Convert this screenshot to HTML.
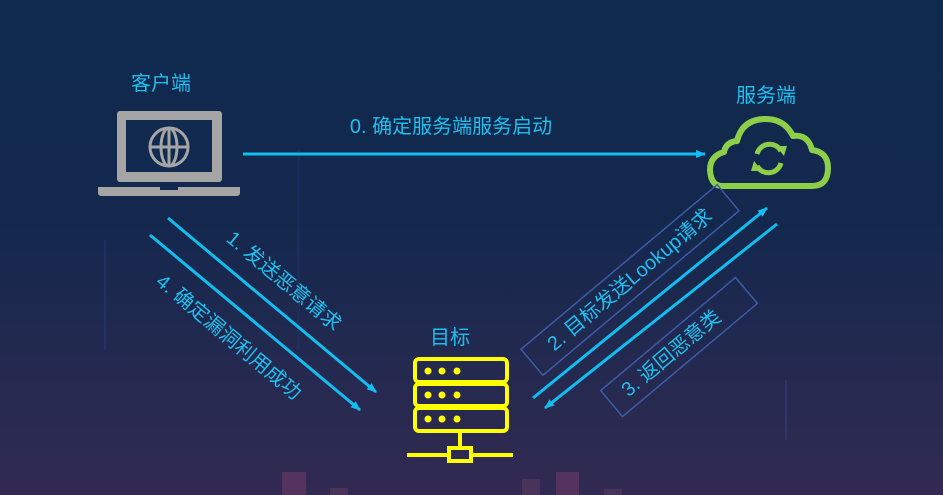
<!DOCTYPE html>
<html><head><meta charset="utf-8"><style>
html,body{margin:0;padding:0;width:943px;height:495px;overflow:hidden}
svg{display:block}
text{font-family:"Liberation Sans","Noto Sans CJK SC",sans-serif;fill:#1fbff0}
</style></head><body>
<svg width="943" height="495" viewBox="0 0 943 495" xmlns="http://www.w3.org/2000/svg">
<defs>
<linearGradient id="bg" x1="0" y1="0" x2="0" y2="1">
<stop offset="0" stop-color="#0f2a4f"/><stop offset="0.45" stop-color="#14284d"/><stop offset="1" stop-color="#322a52"/>
</linearGradient>
<marker id="ah" markerWidth="10" markerHeight="8" refX="9" refY="4" orient="auto" markerUnits="userSpaceOnUse">
<path d="M0,0 L10,4 L0,8 z" fill="#12bdf0"/></marker>
</defs>
<rect width="943" height="495" fill="url(#bg)"/>
<rect x="297" y="150" width="3" height="200" fill="#1d3a7a" opacity="0.35"/>
<rect x="104" y="240" width="2" height="110" fill="#2a3f8a" opacity="0.4"/>
<rect x="785" y="380" width="2" height="60" fill="#3a3f8a" opacity="0.5"/>
<rect x="282" y="472" width="24" height="23" fill="#54335e"/>
<rect x="330" y="488" width="18" height="7" fill="#4a3358"/>
<rect x="522" y="479" width="18" height="16" fill="#4a3358"/>
<rect x="556" y="472" width="23" height="23" fill="#54335e"/>
<rect x="604" y="489" width="18" height="6" fill="#4a3358"/>

<!-- laptop -->
<rect x="117" y="111" width="105" height="71" rx="3" fill="#a5a5a5"/>
<rect x="126" y="120" width="86" height="52" fill="#132a50"/>
<path d="M98,187 H240 V193 Q240,196 236,196 H102 Q98,196 98,193 Z" fill="#a5a5a5"/>
<rect x="160" y="187" width="18" height="3" fill="#132a50"/>
<g fill="none" stroke="#a5a5a5" stroke-width="3">
<circle cx="169" cy="147" r="19"/><ellipse cx="169" cy="147" rx="8" ry="19"/>
<line x1="150" y1="147" x2="188" y2="147"/><line x1="169" y1="128" x2="169" y2="166"/>
</g>
<text x="161" y="90" font-size="20" text-anchor="middle">客户端</text>

<!-- cloud -->
<path d="M722,186 H812 Q828,186 828,168 Q828,152 812,150 Q808,134 793,136 Q784,118 764,119 Q742,120 737,141 Q726,142 724,152 Q710,156 710,170 Q711,186 722,186 Z" fill="none" stroke="#8ecf4a" stroke-width="6" stroke-linejoin="round"/>
<g fill="none" stroke="#8ecf4a" stroke-width="5">
<path d="M757,154 A13,13 0 0 1 781,151"/><path d="M781,163 A13,13 0 0 1 757,166"/>
</g>
<path d="M776,146 L787,146 L784,156 Z" fill="#8ecf4a"/>
<path d="M762,171 L751,171 L754,161 Z" fill="#8ecf4a"/>
<text x="766" y="102" font-size="20" text-anchor="middle">服务端</text>

<!-- server -->
<g fill="none" stroke="#ffff00" stroke-width="4">
<rect x="415" y="359" width="92" height="23" rx="4"/>
<rect x="415" y="384" width="92" height="22" rx="4"/>
<rect x="415" y="408" width="92" height="23" rx="4"/>
<line x1="460" y1="432" x2="460" y2="448"/>
<rect x="449" y="448" width="22" height="13"/>
<line x1="407" y1="455" x2="449" y2="455"/><line x1="471" y1="455" x2="513" y2="455"/>
</g>
<g fill="#ffff00">
<circle cx="428" cy="371" r="3.5"/><circle cx="442" cy="371" r="3.5"/><circle cx="457" cy="371" r="3.5"/>
<circle cx="428" cy="395" r="3.5"/><circle cx="442" cy="395" r="3.5"/><circle cx="457" cy="395" r="3.5"/>
<circle cx="428" cy="419" r="3.5"/><circle cx="442" cy="419" r="3.5"/><circle cx="457" cy="419" r="3.5"/>
</g>
<text x="450" y="344" font-size="20" text-anchor="middle">目标</text>

<!-- arrows -->
<g stroke="#12bdf0" stroke-width="3" fill="none">
<line x1="243" y1="154" x2="705" y2="154" marker-end="url(#ah)"/>
<line x1="168" y1="218" x2="376" y2="392" marker-end="url(#ah)"/>
<line x1="150" y1="235" x2="360" y2="410" marker-end="url(#ah)"/>
<line x1="533" y1="398" x2="767" y2="208" marker-end="url(#ah)"/>
<line x1="777" y1="224" x2="545" y2="408" marker-end="url(#ah)"/>
</g>
<text x="451" y="133" font-size="20" text-anchor="middle">0. 确定服务端服务启动</text>
<text transform="translate(283,282) rotate(40)" font-size="20" text-anchor="middle" dominant-baseline="middle">1. 发送恶意请求</text>
<text transform="translate(228,338) rotate(40)" font-size="20" text-anchor="middle" dominant-baseline="middle">4. 确定漏洞利用成功</text>
<g transform="translate(630,280) rotate(-40)">
<rect x="-128" y="-17" width="256" height="34" fill="none" stroke="#3d5aa8" stroke-width="1.5"/>
<text x="0" y="1" font-size="20" text-anchor="middle" dominant-baseline="middle">2. 目标发送Lookup请求</text>
</g>
<g transform="translate(679,347) rotate(-40)">
<rect x="-88" y="-17" width="176" height="34" fill="none" stroke="#3d5aa8" stroke-width="1.5"/>
<text x="-10" y="1" font-size="20" text-anchor="middle" dominant-baseline="middle">3. 返回恶意类</text>
</g>
</svg>
</body></html>
